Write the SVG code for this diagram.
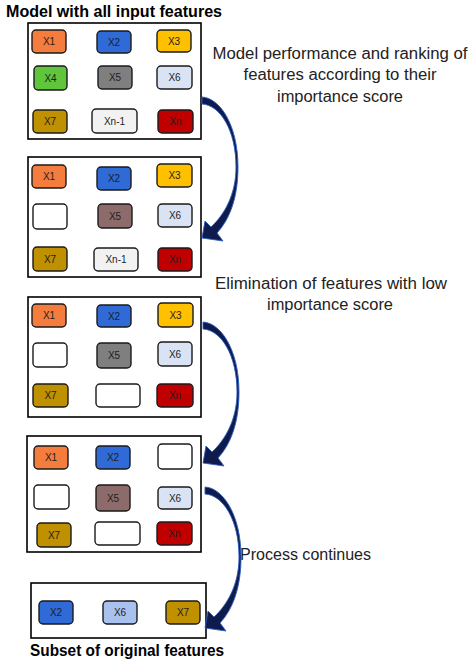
<svg xmlns="http://www.w3.org/2000/svg" width="474" height="665" viewBox="0 0 474 665">
<style>
.frame{fill:#fff;stroke:#000;stroke-width:1.6}
.chip{stroke:#1a1a1a;stroke-width:1.4}
.lbl{font-family:"Liberation Sans",Arial,sans-serif;font-size:10px;fill:#1e1e1e;text-anchor:middle}
.title{font-family:"Liberation Sans",Arial,sans-serif;font-size:16px;font-weight:bold;fill:#000}
.note{font-family:"Liberation Sans",Arial,sans-serif;font-size:16px;fill:#222;text-anchor:middle}
.c1{fill:#f47c3c}.c2{fill:#2f6ad6}.c3{fill:#ffc000}.c4{fill:#5fc63c}.c5{fill:#7f7f7f}.c5b{fill:#8e6b6b}
.c6{fill:#dae3f3}.c6b{fill:#a9c1ef}.c7{fill:#bf9000}.cn1{fill:#f2f2f2}.cn{fill:#c00000}.ce{fill:#fff}
.arr{fill:#0f1b4c;stroke:#2d5cc0;stroke-width:0.9}
</style>
<defs>
<path id="curved" class="arr" d="M0,0 C18,1 36,28 36,70 C36,100 28,122 15,136 L21,144 L0,141 L3,124 L9,130 C22,118 34,98 34,70 C34,33 18,8 0,7 Z"/>
</defs>
<rect width="474" height="665" fill="#fff"/>
<text class="title" x="6" y="17" textLength="216" lengthAdjust="spacingAndGlyphs">Model with all input features</text>
<text class="title" x="30" y="656" textLength="194" lengthAdjust="spacingAndGlyphs">Subset of original features</text>
<g id="note1">
<text class="note" x="340" y="59" textLength="255" lengthAdjust="spacingAndGlyphs">Model performance and ranking of</text>
<text class="note" x="340" y="80" textLength="193" lengthAdjust="spacingAndGlyphs">features according to their</text>
<text class="note" x="340" y="102" textLength="126" lengthAdjust="spacingAndGlyphs">importance score</text>
</g>
<g id="note2">
<text class="note" x="331" y="289" textLength="232" lengthAdjust="spacingAndGlyphs">Elimination of features with low</text>
<text class="note" x="330" y="310" textLength="126" lengthAdjust="spacingAndGlyphs">importance score</text>
</g>
<g id="note3">
<text class="note" x="305.5" y="560" textLength="131" lengthAdjust="spacingAndGlyphs">Process continues</text>
</g>

<g id="stage1">
<rect class="frame" x="28" y="23" width="173" height="116"/>
<rect class="chip c1" x="32" y="30" width="34" height="23" rx="4"/><text class="lbl" x="49" y="45">X1</text>
<rect class="chip c2" x="97" y="31" width="34" height="22" rx="4"/><text class="lbl" x="114" y="45.5">X2</text>
<rect class="chip c3" x="157" y="30" width="34" height="22" rx="4"/><text class="lbl" x="174" y="44.5">X3</text>
<rect class="chip c4" x="34" y="66" width="33" height="24" rx="4"/><text class="lbl" x="50.5" y="81.5">X4</text>
<rect class="chip c5" x="98" y="66" width="34" height="23" rx="4"/><text class="lbl" x="115" y="81">X5</text>
<rect class="chip c6" x="157" y="66" width="35" height="23" rx="4"/><text class="lbl" x="174.5" y="81">X6</text>
<rect class="chip c7" x="33" y="110" width="34" height="23" rx="4"/><text class="lbl" x="50" y="125">X7</text>
<rect class="chip cn1" x="92" y="109" width="45" height="24" rx="4"/><text class="lbl" x="114.5" y="124.5">Xn-1</text>
<rect class="chip cn" x="158" y="110" width="35" height="23" rx="4"/><text class="lbl" x="175.5" y="125">Xn</text>
</g>

<g id="stage2">
<rect class="frame" x="28" y="157" width="173" height="120"/>
<rect class="chip c1" x="32" y="165" width="34" height="23" rx="4"/><text class="lbl" x="49" y="180">X1</text>
<rect class="chip c2" x="97" y="167" width="34" height="23" rx="4"/><text class="lbl" x="114" y="182">X2</text>
<rect class="chip c3" x="157" y="164" width="35" height="23" rx="4"/><text class="lbl" x="174.5" y="179">X3</text>
<rect class="chip ce" x="33" y="204" width="34" height="25" rx="4"/>
<rect class="chip c5b" x="98" y="204" width="34" height="24" rx="4"/><text class="lbl" x="115" y="219.5">X5</text>
<rect class="chip c6" x="158" y="204" width="34" height="23" rx="4"/><text class="lbl" x="175" y="219">X6</text>
<rect class="chip c7" x="33" y="247" width="34" height="24" rx="4"/><text class="lbl" x="50" y="262.5">X7</text>
<rect class="chip cn1" x="94" y="248" width="44" height="23" rx="4"/><text class="lbl" x="116" y="263">Xn-1</text>
<rect class="chip cn" x="158" y="248" width="34" height="23" rx="4"/><text class="lbl" x="175" y="263">Xn</text>
</g>

<g id="stage3">
<rect class="frame" x="28" y="297" width="173" height="120"/>
<rect class="chip c1" x="32" y="304" width="34" height="23" rx="4"/><text class="lbl" x="49" y="319">X1</text>
<rect class="chip c2" x="97" y="305" width="34" height="22" rx="4"/><text class="lbl" x="114" y="319.5">X2</text>
<rect class="chip c3" x="158" y="303" width="35" height="24" rx="4"/><text class="lbl" x="175.5" y="318.5">X3</text>
<rect class="chip ce" x="33" y="343" width="34" height="24" rx="4"/>
<rect class="chip c5" x="97" y="343" width="34" height="25" rx="4"/><text class="lbl" x="114" y="359">X5</text>
<rect class="chip c6" x="158" y="342" width="34" height="24" rx="4"/><text class="lbl" x="175" y="357.5">X6</text>
<rect class="chip c7" x="33" y="384" width="35" height="23" rx="4"/><text class="lbl" x="50.5" y="399">X7</text>
<rect class="chip ce" x="96" y="384" width="44" height="23" rx="4"/>
<rect class="chip cn" x="157" y="384" width="36" height="23" rx="4"/><text class="lbl" x="175" y="399">Xn</text>
</g>

<g id="stage4">
<rect class="frame" x="27" y="436" width="174" height="116"/>
<rect class="chip c1" x="34" y="446" width="34" height="23" rx="4"/><text class="lbl" x="51" y="461">X1</text>
<rect class="chip c2" x="96" y="446" width="34" height="23" rx="4"/><text class="lbl" x="113" y="461">X2</text>
<rect class="chip ce" x="158" y="444" width="34" height="25" rx="4"/>
<rect class="chip ce" x="34" y="485" width="35" height="24" rx="4"/>
<rect class="chip c5b" x="96" y="485" width="34" height="26" rx="4"/><text class="lbl" x="113" y="501.5">X5</text>
<rect class="chip c6" x="158" y="487" width="34" height="22" rx="4"/><text class="lbl" x="175" y="501.5">X6</text>
<rect class="chip c7" x="37" y="523" width="34" height="24" rx="4"/><text class="lbl" x="54" y="538.5">X7</text>
<rect class="chip ce" x="95" y="522" width="45" height="23" rx="4"/>
<rect class="chip cn" x="157" y="522" width="35" height="23" rx="4"/><text class="lbl" x="174.5" y="537">Xn</text>
</g>

<g id="stage5">
<rect class="frame" x="31" y="583" width="175" height="55"/>
<rect class="chip c2" x="39" y="601" width="34" height="23" rx="4"/><text class="lbl" x="56" y="616">X2</text>
<rect class="chip c6b" x="103" y="601" width="34" height="23" rx="4"/><text class="lbl" x="120" y="616">X6</text>
<rect class="chip c7" x="166" y="601" width="34" height="23" rx="4"/><text class="lbl" x="183" y="616">X7</text>
</g>

<g id="connectors">
<use href="#curved" transform="translate(202,97)"/>
<use href="#curved" transform="translate(203,322)"/>
<use href="#curved" transform="translate(205,487)"/>
</g>
</svg>
